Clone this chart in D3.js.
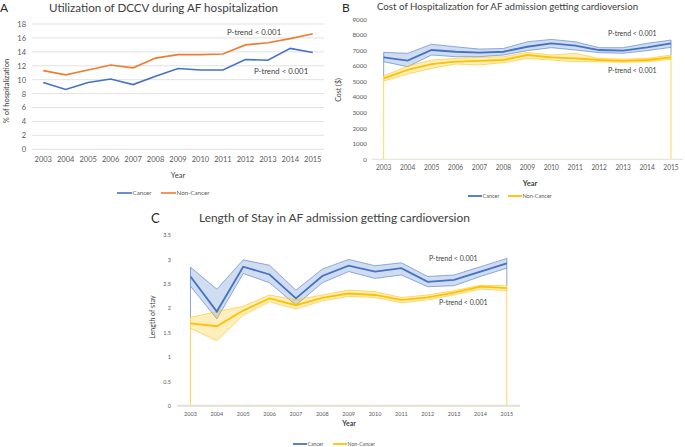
<!DOCTYPE html>
<html><head><meta charset="utf-8">
<script src="https://cdn.jsdelivr.net/npm/d3@7"></script>
<style>body{margin:0;background:#fff}svg{display:block;font-family:Lato,"Open Sans",sans-serif}</style>
</head><body><svg id="c" width="685" height="447"></svg>
<script>
const years = ["2003","2004","2005","2006","2007","2008","2009","2010","2011","2012","2013","2014","2015"];
// Panel A: % of hospitalizations with DCCV
const dccvCancer    = [9.6,8.6,9.6,10.1,9.3,10.5,11.6,11.4,11.4,12.9,12.8,14.5,13.9];
const dccvNonCancer = [11.3,10.7,11.4,12.1,11.7,13.1,13.6,13.6,13.7,15.0,15.3,15.9,16.6];
const dccvTicks = [0,2,4,6,8,10,12,14,16,18];
// Panel B: cost ($) mean and CI
const costCancer      = [6540,6330,7010,6900,6840,6900,7220,7440,7290,7010,6970,7180,7440];
const costCancerHi    = [6860,6800,7380,7220,7070,7110,7540,7690,7540,7160,7160,7440,7650];
const costCancerLo    = [6260,5940,6690,6580,6580,6690,6970,7160,7010,6840,6800,6970,7180];
const costNonCancer   = [5190,5730,6110,6260,6320,6370,6690,6540,6470,6370,6320,6370,6540];
const costNonCancerHi = [5340,5980,6370,6470,6540,6580,6860,6690,6800,6470,6430,6470,6690];
const costNonCancerLo = [5020,5470,5830,6110,6050,6200,6470,6370,6260,6260,6220,6260,6410];
const costTicks = [0,1000,2000,3000,4000,5000,6000,7000,8000,9000];
// Panel C: length of stay mean and CI
const losCancer      = [2.65,1.93,2.85,2.69,2.20,2.66,2.87,2.75,2.82,2.54,2.58,2.75,2.92];
const losCancerHi    = [2.84,2.39,2.99,2.88,2.37,2.80,3.00,2.87,2.93,2.65,2.68,2.85,3.02];
const losCancerLo    = [2.45,1.78,2.71,2.52,2.06,2.52,2.75,2.61,2.68,2.44,2.46,2.65,2.82];
const losNonCancer   = [1.69,1.63,1.95,2.20,2.06,2.21,2.30,2.27,2.17,2.22,2.32,2.44,2.41];
const losNonCancerHi = [1.81,1.93,2.04,2.27,2.17,2.27,2.37,2.34,2.22,2.27,2.36,2.47,2.46];
const losNonCancerLo = [1.59,1.33,1.86,2.13,1.98,2.15,2.24,2.22,2.11,2.17,2.27,2.39,2.36];
const losTicks = [0,0.5,1,1.5,2,2.5,3,3.5];

const BLUE="#4472C4", ORANGE="#ED7D31", GOLD="#FFC000";
const svg = d3.select("#c");

function panel(o){
  const g = svg.append("g");
  const x = d3.scaleBand().domain(years).range([o.x0,o.x1]);
  const cx = d => x(d)+x.bandwidth()/2;
  const y = d3.scaleLinear().domain([0,o.ymax]).range([o.yb,o.yt]);
  if(o.grid){
    g.selectAll(".gr").data(o.ticks).join("line")
      .attr("x1",o.x0).attr("x2",o.x1).attr("y1",d=>y(d)).attr("y2",d=>y(d))
      .attr("stroke","#d9d9d9").attr("stroke-width",0.8);
  }
  const ya = d3.axisLeft(y).tickValues(o.ticks).tickSize(0).tickPadding(0).tickFormat(d=>String(d));
  const yg = g.append("g").attr("transform",`translate(${o.ylx},0)`).call(ya);
  yg.select(".domain").remove();
  yg.selectAll("text").attr("font-size",o.tf).attr("fill","#595959").attr("font-family","Lato");
  const xa = d3.axisBottom(x).tickSize(0).tickPadding(0);
  const xg = g.append("g").attr("transform",`translate(0,${o.xly})`).call(xa);
  xg.select(".domain").remove();
  xg.selectAll("text").attr("font-size",o.xtf||o.tf).attr("fill","#595959").attr("font-family","Lato").attr("dy","0.35em");
  (o.bands||[]).forEach(b=>{
    const idx = years.map((_,i)=>i);
    g.append("path").datum(idx)
      .attr("d",d3.area().x(i=>cx(years[i])).y0(i=>y(b.lo[i])).y1(i=>y(b.hi[i])))
      .attr("fill",b.color).attr("fill-opacity",0.25);
    [b.lo,b.hi].forEach(arr=>{
      g.append("path").datum(idx)
        .attr("d",d3.line().x(i=>cx(years[i])).y(i=>y(arr[i])))
        .attr("fill","none").attr("stroke",b.color).attr("stroke-width",0.7).attr("stroke-opacity",0.8);
    });
    [0,12].forEach(i=>{
      g.append("line").attr("x1",cx(years[i])).attr("x2",cx(years[i]))
        .attr("y1",y(b.hi[i])).attr("y2",y(b.edgeTo ? b.edgeTo[i] : 0))
        .attr("stroke",b.color).attr("stroke-width",0.8).attr("stroke-opacity",0.8);
    });
  });
  if(o.axisLine){
    g.append("line").attr("x1",o.x0).attr("x2",o.x1).attr("y1",o.yb).attr("y2",o.yb)
      .attr("stroke","#e4dfd2").attr("stroke-width",o.axisLine);
  }
  o.series.forEach(s=>{
    g.append("path").datum(s.values.map((v,i)=>[years[i],v]))
      .attr("d",d3.line().x(d=>cx(d[0])).y(d=>y(d[1])))
      .attr("fill","none").attr("stroke",s.color).attr("stroke-width",o.lw);
  });
  o.notes.forEach(n=>{
    g.append("text").attr("x",n[0]).attr("y",n[1]).attr("dy","0.35em")
      .attr("font-size",o.nf).attr("fill","#404040").text("P-trend < 0.001");
  });
  g.append("text").attr("x",o.letter[0]).attr("y",o.letter[1]).attr("dy","0.35em")
    .attr("font-size",o.letter[2]).attr("fill","#262626").text(o.letter[3]);
  g.append("text").attr("x",o.title[0]).attr("y",o.title[1]).attr("dy","0.35em")
    .attr("font-size",o.title[2]).attr("fill","#404040").text(o.title[3]);
  g.append("text").attr("transform",`translate(${o.ytitle[0]},${o.ytitle[1]}) rotate(-90)`)
    .attr("text-anchor","middle").attr("dy","0.35em").attr("font-size",o.ytitle[2]).attr("fill","#404040").text(o.ytitle[3]);
  g.append("text").attr("x",o.xtitle[0]).attr("y",o.xtitle[1]).attr("text-anchor","middle").attr("dy","0.35em")
    .attr("font-size",o.xtitle[2]).attr("fill","#404040").attr("font-weight",o.xtitleBold?"bold":"normal").text("Year");
  const L=o.legend;
  [[o.series[0].color,"Cancer",L.x1],[o.series[1].color,"Non-Cancer",L.x2]].forEach(([c,t,lx])=>{
    g.append("line").attr("x1",lx).attr("x2",lx+L.w).attr("y1",L.y).attr("y2",L.y)
      .attr("stroke",c).attr("stroke-width",o.lw);
    g.append("text").attr("x",lx+L.w+0.5).attr("y",L.y).attr("dy","0.35em")
      .attr("font-size",L.f).attr("fill","#595959").text(t);
  });
}

panel({
  x0:32,x1:324,yb:149.3,yt:24,ymax:18,ticks:dccvTicks,grid:true,ylx:26,xly:159,tf:7.5,lw:1.6,nf:7.8,
  series:[{values:dccvCancer,color:BLUE},{values:dccvNonCancer,color:ORANGE}],
  notes:[[227,32],[254,71]],
  letter:[0,8,12,"A"], title:[49,8,11.6,"Utilization of DCCV during AF hospitalization"],
  ytitle:[6,91,7.5,"% of hospitalization"], xtitle:[178,175,7.5],
  legend:{y:193,x1:117,x2:161,w:15,f:6.2}
});

panel({
  x0:371.7,x1:683,yb:159.3,yt:19,ymax:9000,ticks:costTicks,grid:false,ylx:367,xly:168,tf:6.3,xtf:6.6,lw:1.8,nf:7,
  axisLine:1,
  bands:[
    {lo:costCancerLo,hi:costCancerHi,color:BLUE,edgeTo:costNonCancerHi},
    {lo:costNonCancerLo,hi:costNonCancerHi,color:GOLD}
  ],
  series:[{values:costCancer,color:BLUE},{values:costNonCancer,color:GOLD}],
  notes:[[608,34],[608,71]],
  letter:[342,8,12,"B"], title:[377,7,9.7,"Cost of Hospitalization for AF admission getting cardioversion"],
  ytitle:[339,90,7,"Cost ($)"], xtitle:[530,183,7.5], xtitleBold:true,
  legend:{y:196,x1:468,x2:508,w:14,f:5.5}
});

panel({
  x0:177.3,x1:520,yb:405.7,yt:235,ymax:3.5,ticks:losTicks,grid:false,ylx:171,xly:414,tf:5.5,lw:1.8,nf:7,
  axisLine:2,
  bands:[
    {lo:losCancerLo,hi:losCancerHi,color:BLUE,edgeTo:losNonCancerHi},
    {lo:losNonCancerLo,hi:losNonCancerHi,color:GOLD}
  ],
  series:[{values:losCancer,color:BLUE},{values:losNonCancer,color:GOLD}],
  notes:[[429,259],[439,303]],
  letter:[151,218,13,"C"], title:[199,218,11.9,"Length of Stay in AF admission getting cardioversion"],
  ytitle:[153,317,7,"Length of stay"], xtitle:[349,424,7], xtitleBold:true,
  legend:{y:444,x1:293,x2:333,w:14,f:5.2}
});
</script></body></html>
